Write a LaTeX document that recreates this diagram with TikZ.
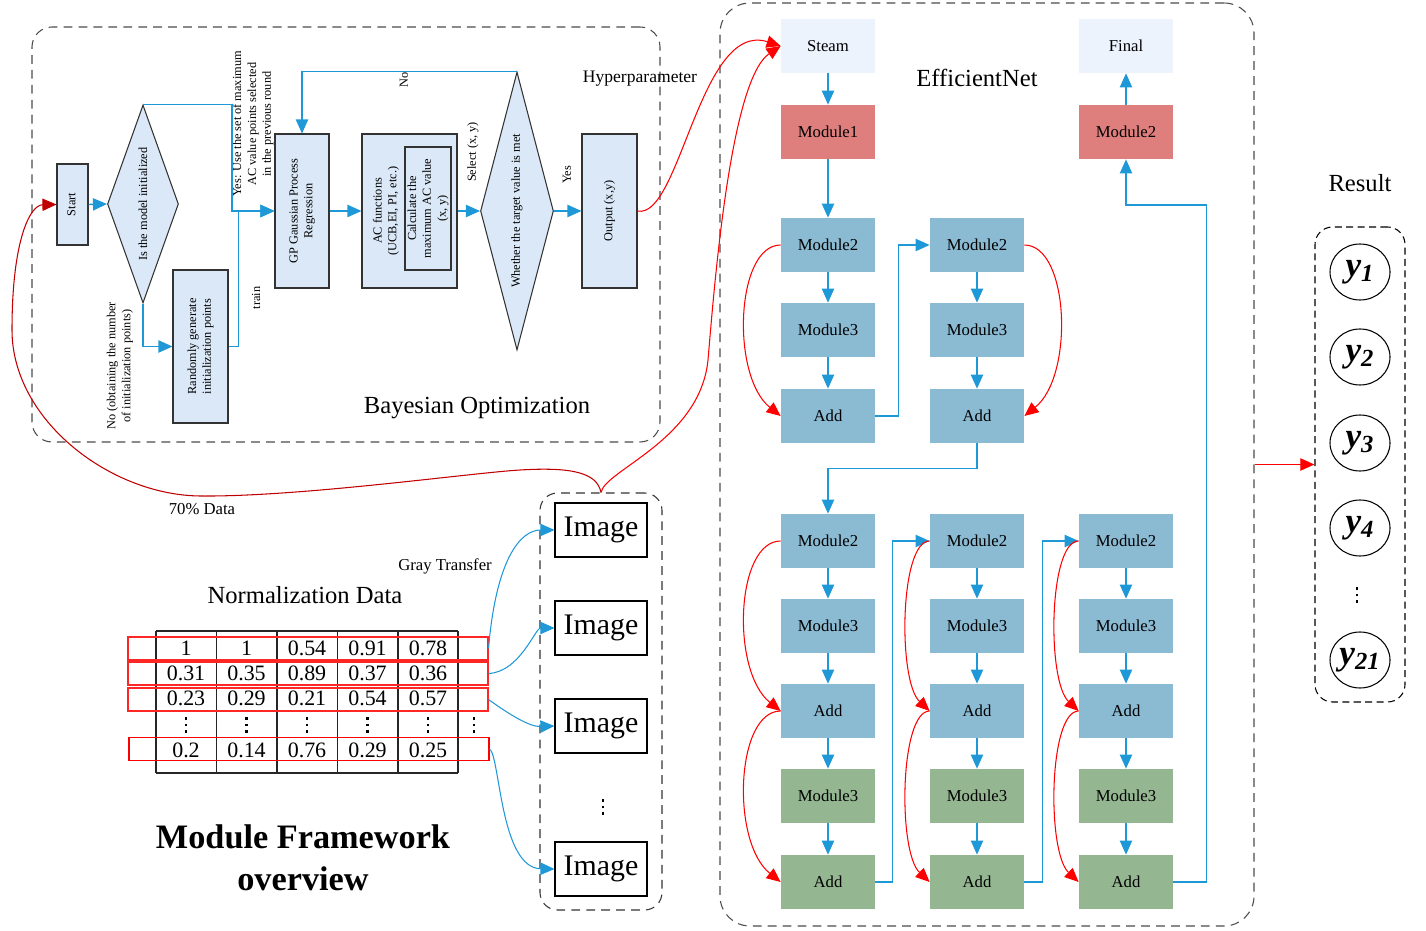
\documentclass[tikz,border=0pt]{standalone}
\usepackage{fontspec}
\setmainfont{Liberation Serif}
\usetikzlibrary{arrows.meta, shapes.geometric, positioning}

\definecolor{lineblue}{RGB}{30,152,214}
\definecolor{bofill}{RGB}{218,232,247}
\definecolor{steamfill}{RGB}{236,243,252}
\definecolor{redfill}{RGB}{222,127,126}
\definecolor{bluefill}{RGB}{139,186,211}
\definecolor{greenfill}{RGB}{148,183,145}
\definecolor{darkred}{RGB}{192,0,0}

\newcommand{\rtext}[1]{\rotatebox{90}{\begin{tabular}{@{}c@{}}#1\end{tabular}}}
\newcommand{\celldots}{\vbox{\offinterlineskip\hbox{\rule{1.6pt}{1.6pt}}\kern2pt\hbox{\rule{1.6pt}{1.6pt}}\kern2pt\hbox{\rule{1.6pt}{1.6pt}}}}

\tikzset{>={Triangle[length=8pt,width=7pt]}, % filled triangle heads everywhere
x=0.2mm, y=0.2mm, % one unit is one pixel of the layout
bline/.style={->, color=lineblue, line width=0.8pt}, % blue flow arrows
rline/.style={->, color=red, line width=0.6pt}, % red skip and data arrows
bobox/.style={draw=black!80, fill=bofill, line width=0.6pt, inner sep=0pt, font=\fontsize{7}{8.5}\selectfont}, % boxes of the Bayesian loop
botext/.style={rotate=90, align=center, font=\fontsize{7}{8.5}\selectfont}, % rotated labels
effbox/.style={minimum width=1.88cm, minimum height=1.08cm, inner sep=0pt, font=\fontsize{9.5}{11}\selectfont}, % EfficientNet blocks
effblue/.style={effbox, fill=bluefill},
effgreen/.style={effbox, fill=greenfill},
effred/.style={effbox, fill=redfill},
efflight/.style={effbox, fill=steamfill},
dashgroup/.style={draw=black!70, dash pattern=on 5pt off 3.5pt, rounded corners=0.4cm, line width=0.6pt}, % dashed frames
imgbox/.style={draw, line width=0.6pt, minimum width=1.84cm, minimum height=1.08cm, font=\fontsize{17}{20}\selectfont},
rowbox/.style={draw=red!85, line width=0.6pt, minimum width=7.2cm, minimum height=0.46cm, inner sep=0pt},
cellval/.style={font=\fontsize{12.5}{14}\selectfont, inner sep=0pt},
ynode/.style={draw, ellipse, line width=0.6pt, minimum width=1.2cm, minimum height=1.12cm, inner sep=0pt, font=\fontsize{20}{24}\selectfont\bfseries\itshape},
big/.style={font=\fontsize{14}{17}\selectfont},
small/.style={font=\fontsize{9.5}{11}\selectfont},
}

\begin{document}
\begin{tikzpicture}
    \useasboundingbox (0,0) rectangle (1426,-931);

    % Bayesian optimization loop
    \node[dashgroup, minimum width=12.56cm, minimum height=8.3cm] (bayes) at (346,-234.5) {};
    \node[bobox, minimum width=0.62cm, minimum height=1.62cm] (start) at (72.5,-204.5) {\rtext{Start}};
    \node[bobox, diamond, minimum width=1.42cm, minimum height=3.96cm] (init) at (143,-204) {};
    \node[botext] (initt) at (init) {Is the model initialized};
    \node[bobox, minimum width=1.1cm, minimum height=3.06cm] (rand) at (200.5,-346.5) {\rtext{Randomly generate\\initialization points}};
    \node[bobox, minimum width=1.08cm, minimum height=3.08cm] (gp) at (302,-211) {\rtext{GP Gaussian Process\\Regression}};
    \node[bobox, minimum width=1.9cm, minimum height=3.08cm] (ac) at (409.5,-211) {};
    \node[botext] (act) at (386,-211) {AC functions\\(UCB,EI, PI, etc.)};
    \node[bobox, minimum width=0.92cm, minimum height=2.46cm] (acmax) at (428,-208.5) {\rtext{Calculate the\\maximum AC value\\(x, y)}};
    \node[bobox, diamond, minimum width=1.46cm, minimum height=5.56cm] (target) at (517,-211) {};
    \node[botext] (targett) at (target) {Whether the target value is met};
    \node[bobox, minimum width=1.1cm, minimum height=3.08cm] (out) at (609.5,-211) {\rtext{Output (x,y)}};

    \node[botext] (nolab) at (120,-366) {No (obtaining the number\\of initialization points)};
    \node[botext] (yeslab) at (253,-124) {Yes: Use the set of maximum\\AC value points selected\\in the previous round};
    \node[botext] (trainlab) at (256,-298) {train};
    \node[botext] (nolab2) at (404,-80) {No};
    \node[botext] (sellab) at (473,-152) {Select (x, y)};
    \node[botext] (yeslab2) at (567,-175) {Yes};
    \node[small, font=\fontsize{10}{12}\selectfont] (hyper) at (640,-79) {Hyperparameter};
    \node[big] (bayeslab) at (477,-408) {Bayesian Optimization};

    \draw[bline] (start.east) -- (init.west);
    \draw[bline] (init.north) -- ++(89,0) |- (gp.west);
    \draw[bline] (init.south) |- (rand.west);
    \draw[bline] (rand.east) -- ++(10,0) |- (gp.west);
    \draw[bline] (gp.east) -- (ac.west);
    \draw[bline] (ac.east) -- (target.west);
    \draw[bline] (target.east) -- (out.west);
    \draw[bline] (target.north) -| (gp.north);

    % normalization data table
    \node[big] (normlab) at (305,-595) {Normalization Data};
    \draw[line width=0.7pt, black!85] (156,-631) -- (458,-631) (156,-773) -- (458,-773)
        (156,-631) -- (156,-773) (216.5,-631) -- (216.5,-773) (277,-631) -- (277,-773)
        (337.5,-631) -- (337.5,-773) (398,-631) -- (398,-773) (458,-631) -- (458,-773);
    \node[cellval] (v11) at (186,-648) {1};    \node[cellval] (v12) at (246.5,-648) {1};
    \node[cellval] (v13) at (307,-648) {0.54}; \node[cellval] (v14) at (367.5,-648) {0.91};
    \node[cellval] (v15) at (428,-648) {0.78};
    \node[cellval] (v21) at (186,-673) {0.31}; \node[cellval] (v22) at (246.5,-673) {0.35};
    \node[cellval] (v23) at (307,-673) {0.89}; \node[cellval] (v24) at (367.5,-673) {0.37};
    \node[cellval] (v25) at (428,-673) {0.36};
    \node[cellval] (v31) at (186,-698) {0.23}; \node[cellval] (v32) at (246.5,-698) {0.29};
    \node[cellval] (v33) at (307,-698) {0.21}; \node[cellval] (v34) at (367.5,-698) {0.54};
    \node[cellval] (v35) at (428,-698) {0.57};
    \node[cellval] (v41) at (186,-725) {\celldots}; \node[cellval] (v42) at (246.5,-725) {\celldots};
    \node[cellval] (v43) at (307,-725) {\celldots}; \node[cellval] (v44) at (367.5,-725) {\celldots};
    \node[cellval] (v45) at (428,-725) {\celldots}; \node[cellval] (v46) at (474,-725) {\celldots};
    \node[cellval] (v51) at (186,-750) {0.2};  \node[cellval] (v52) at (246.5,-750) {0.14};
    \node[cellval] (v53) at (307,-750) {0.76}; \node[cellval] (v54) at (367.5,-750) {0.29};
    \node[cellval] (v55) at (428,-750) {0.25};
    \node[rowbox] (rw1) at (308,-648.5) {};
    \node[rowbox] (rw2) at (308,-673.5) {};
    \node[rowbox] (rw3) at (308,-699.5) {};
    \node[rowbox, draw=red] (rw5) at (309,-749) {};

    \node[small] (datapct) at (202,-509) {70\% Data};
    \node[small] (graylab) at (445,-566) {Gray Transfer};
    \node[align=center, font=\fontsize{19.5}{24}\selectfont\bfseries] (frame) at (303,-858) {Module Framework\\overview};

    % gray images
    \node[dashgroup, draw=black!80, rounded corners=0.35cm, minimum width=2.44cm, minimum height=8.34cm] (imgs) at (601,-701.5) {};
    \node[imgbox] (img1) at (601,-530) {Image};
    \node[imgbox] (img2) at (601,-628) {Image};
    \node[imgbox] (img3) at (601,-726) {Image};
    \node[cellval] (imgdots) at (603,-807) {\celldots};
    \node[imgbox] (img4) at (601,-869) {Image};

    \draw[bline, line width=0.6pt] (rw1.east) .. controls (496,-560) and (520,-530) .. (img1.west);
    \draw[bline, line width=0.6pt] (rw2.east) .. controls (520,-672) and (535,-628) .. (img2.west);
    \draw[bline, line width=0.6pt] (rw3.east) .. controls (510,-715) and (530,-727) .. (img3.west);
    \draw[bline, line width=0.6pt] (rw5.east) .. controls (500,-755) and (500,-868) .. (img4.west);

    % EfficientNet
    \node[dashgroup, rounded corners=0.6cm, minimum width=10.68cm, minimum height=18.46cm] (effnet) at (987,-464.5) {};
    \node[big] (efflab) at (977,-78) {EfficientNet};
    \node[efflight] (steam) at (828,-46) {Steam};
    \node[effred] (mod1) at (828,-132) {Module1};
    \node[effblue] (am2) at (828,-245) {Module2};
    \node[effblue] (am3) at (828,-330) {Module3};
    \node[effblue] (aadd) at (828,-416) {Add};
    \node[effblue] (bm2) at (977,-245) {Module2};
    \node[effblue] (bm3) at (977,-330) {Module3};
    \node[effblue] (badd) at (977,-416) {Add};
    \node[effblue] (cm2) at (828,-541) {Module2};
    \node[effblue] (cm3) at (828,-626) {Module3};
    \node[effblue] (cadd) at (828,-711) {Add};
    \node[effgreen] (cg3) at (828,-796) {Module3};
    \node[effgreen] (cgadd) at (828,-882) {Add};
    \node[effblue] (dm2) at (977,-541) {Module2};
    \node[effblue] (dm3) at (977,-626) {Module3};
    \node[effblue] (dadd) at (977,-711) {Add};
    \node[effgreen] (dg3) at (977,-796) {Module3};
    \node[effgreen] (dgadd) at (977,-882) {Add};
    \node[effblue] (em2) at (1126,-541) {Module2};
    \node[effblue] (em3) at (1126,-626) {Module3};
    \node[effblue] (eadd) at (1126,-711) {Add};
    \node[effgreen] (eg3) at (1126,-796) {Module3};
    \node[effgreen] (egadd) at (1126,-882) {Add};
    \node[effred] (fmod) at (1126,-132) {Module2};
    \node[efflight] (final) at (1126,-46) {Final};

    \draw[bline] (steam) edge (mod1) (mod1) edge (am2) (am2) edge (am3) (am3) edge (aadd)
        (bm2) edge (bm3) (bm3) edge (badd)
        (cm2) edge (cm3) (cm3) edge (cadd) (cadd) edge (cg3) (cg3) edge (cgadd)
        (dm2) edge (dm3) (dm3) edge (dadd) (dadd) edge (dg3) (dg3) edge (dgadd)
        (em2) edge (em3) (em3) edge (eadd) (eadd) edge (eg3) (eg3) edge (egadd)
        (fmod) edge (final);
    \draw[bline] (aadd.east) -- ++(23,0) |- (bm2.west);
    \draw[bline] (badd.south) -- ++(0,-25) -| (cm2.north);
    \draw[bline] (cgadd.east) -- ++(17,0) |- (dm2.west);
    \draw[bline] (dgadd.east) -- ++(18,0) |- (em2.west);
    \draw[bline] (egadd.east) -- ++(33,0) -- ++(0,677) -| (fmod.south);

    \draw[rline] (am2.west) .. controls +(-45,0) and +(-50,40) .. (aadd.west);
    \draw[rline] (bm2.east) .. controls +(45,0) and +(50,40) .. (badd.east);
    \draw[rline] (cm2.west) .. controls +(-45,0) and +(-50,40) .. (cadd.west);
    \draw[rline] (cadd.west) .. controls +(-45,0) and +(-50,40) .. (cgadd.west);
    \draw[rline] (dm2.west) .. controls +(-30,0) and +(-32,30) .. (dadd.west);
    \draw[rline] (dadd.west) .. controls +(-30,0) and +(-32,30) .. (dgadd.west);
    \draw[rline] (em2.west) .. controls +(-30,0) and +(-32,30) .. (eadd.west);
    \draw[rline] (eadd.west) .. controls +(-30,0) and +(-32,30) .. (egadd.west);

    % data and hyperparameters into the network
    \draw[rline] (out.east) .. controls (680,-220) and (700,-20) .. (steam.west);
    \draw[rline] (imgs.north) .. controls (605,-470) and (700,-440) .. (708,-360)
        .. controls (714,-290) and (730,-80) .. (steam.west);
    \draw[rline, color=darkred] (imgs.north) .. controls (597,-472) and (570,-467) .. (520,-470)
        .. controls (470,-473) and (300,-497) .. (200,-496)
        .. controls (110,-495) and (12,-420) .. (12,-330)
        .. controls (12,-240) and (30,-205) .. (start.west);

    % result
    \node[big] (reslab) at (1360,-183) {Result};
    \node[dashgroup, draw=black, dash pattern=on 4pt off 2.5pt, rounded corners=0.35cm, minimum width=1.8cm, minimum height=9.5cm] (result) at (1360,-464.5) {};
    \node[ynode] (y1) at (1360,-272) {y\textsubscript{1}};
    \node[ynode] (y2) at (1360,-357) {y\textsubscript{2}};
    \node[ynode] (y3) at (1360,-443) {y\textsubscript{3}};
    \node[ynode] (y4) at (1360,-528) {y\textsubscript{4}};
    \node[cellval] (ydots) at (1357,-595) {\celldots};
    \node[ynode] (y21) at (1360,-660) {y\textsubscript{21}};
    \draw[rline] (effnet.east) -- (result.west);
\end{tikzpicture}
\end{document}
